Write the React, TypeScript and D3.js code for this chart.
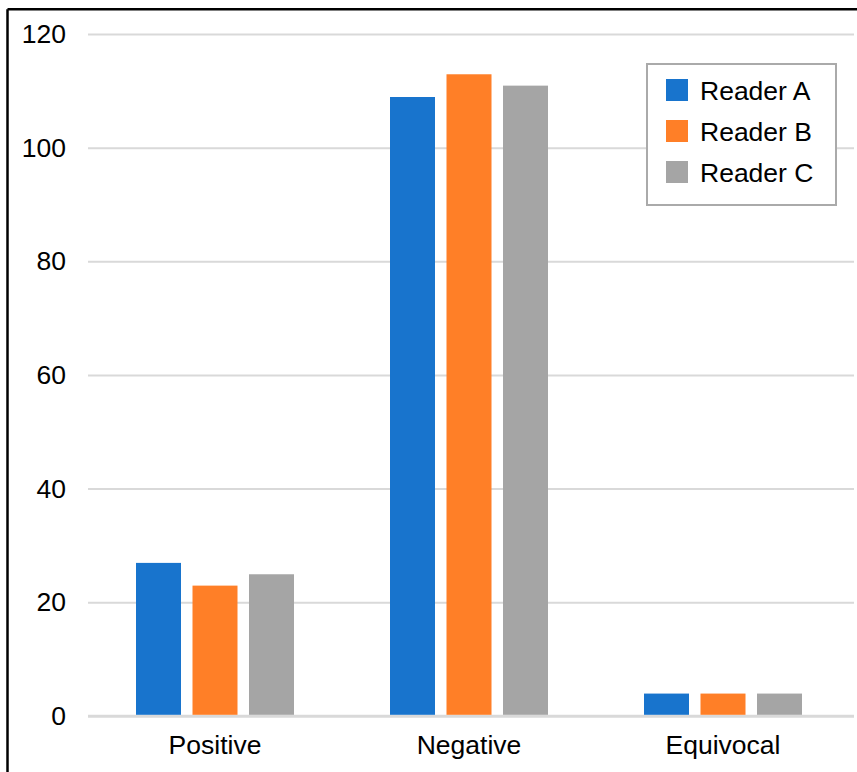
import React from "react";
import * as d3 from "d3";

const categories = ["Positive", "Negative", "Equivocal"];
const seriesNames = ["Reader A", "Reader B", "Reader C"];
const readerA = [27, 109, 4];
const readerB = [23, 113, 4];
const readerC = [25, 111, 4];
const yTicks = [0, 20, 40, 60, 80, 100, 120];
const colors = ["#1874CD", "#FF7F27", "#A5A5A5"];

const W = 857;
const H = 772;
const FONT = "'Liberation Sans', Arial, sans-serif";

export default function App() {
  const series = [readerA, readerB, readerC];
  const plotLeft = 88;
  const plotRight = 850;
  const y = d3.scaleLinear().domain([0, 120]).range([716.3, 34.5]);
  const x0 = d3.scaleBand<string>().domain(categories).range([plotLeft, plotRight]).paddingInner(0).paddingOuter(0);
  const groupW = 158;
  const x1 = d3
    .scaleBand<string>()
    .domain(seriesNames)
    .range([0, groupW])
    .paddingInner(0.2035);

  return (
    <div style={{ position: "absolute", left: 0, top: 0 }}>
      <svg width={W} height={H} style={{ display: "block", background: "#fff" }} fontFamily={FONT}>
        <rect x={0} y={0} width={W} height={H} fill="#fff" />
        {/* frame */}
        <line x1={7.5} x2={7.5} y1={9.3} y2={H} stroke="#000" strokeWidth={2.5} />
        <line x1={7.5} x2={W} y1={9.3} y2={9.3} stroke="#000" strokeWidth={2.5} />

        {/* gridlines and y labels */}
        {yTicks.map((t) => (
          <g key={t}>
            <line
              x1={plotLeft}
              x2={854}
              y1={y(t)}
              y2={y(t)}
              stroke="#D9D9D9"
              strokeWidth={t === 0 ? 3 : 2}
            />
            <text x={66} y={y(t)} dy="0.32em" textAnchor="end" fontSize={26.5} fill="#000">
              {t}
            </text>
          </g>
        ))}

        {/* bars */}
        {categories.map((c, ci) => {
          const gx = (x0(c) as number) + x0.bandwidth() / 2 - groupW / 2;
          return (
            <g key={c}>
              {seriesNames.map((s, si) => (
                <rect
                  key={s}
                  x={gx + (x1(s) as number)}
                  width={x1.bandwidth()}
                  y={y(series[si][ci])}
                  height={y(0) - y(series[si][ci]) - 1.5}
                  fill={colors[si]}
                />
              ))}
              <text
                x={(x0(c) as number) + x0.bandwidth() / 2}
                y={754}
                textAnchor="middle"
                fontSize={26.5}
                fill="#000"
              >
                {c}
              </text>
            </g>
          );
        })}

        {/* legend */}
        <rect x={647} y={64} width={189} height={141} fill="#fff" stroke="#AAAAAA" strokeWidth={2} />
        {seriesNames.map((s, i) => (
          <g key={s} transform={`translate(0, ${i * 41})`}>
            <rect x={666} y={79} width={22} height={22} fill={colors[i]} />
            <text x={700} y={100} fontSize={26.5} fill="#000">
              {s}
            </text>
          </g>
        ))}
      </svg>
    </div>
  );
}
